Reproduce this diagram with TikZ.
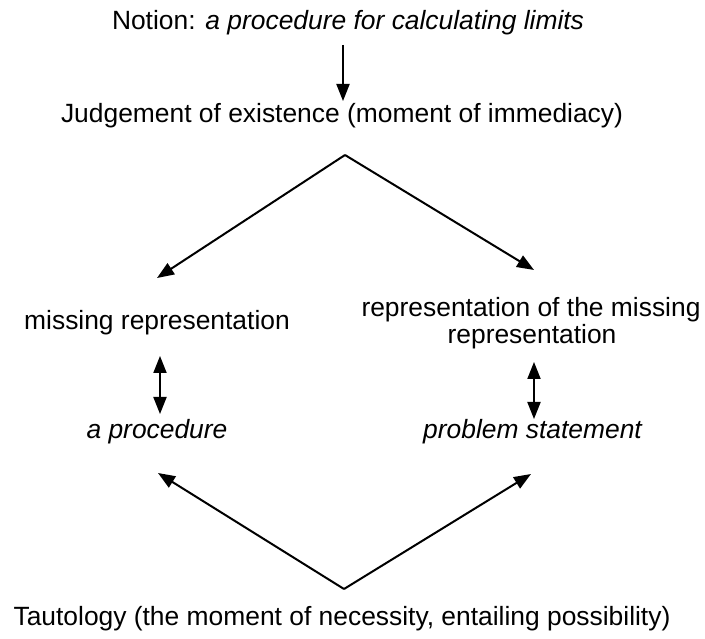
\documentclass[tikz,border=0pt]{standalone}
\usepackage{fontspec}
\setmainfont{Liberation Sans}
\usetikzlibrary{arrows.meta}
\begin{document}
\begin{tikzpicture}[x=1pt,y=-1pt,
  lbl/.style={inner sep=0pt,text height=0.72em,text depth=0pt,font=\fontsize{26.4}{30}\selectfont},
  tip/.style={},
  conn/.style={line width=2pt,-{Triangle[length=17pt,width=13pt]}},
  dconn/.style={line width=2pt,{Triangle[length=17pt,width=13pt]}-{Triangle[length=17pt,width=13pt]}}]
\useasboundingbox (0,0) rectangle (705,639);
\node[lbl] (notion) at (348,26) {Notion: \textit{a procedure for calculating limits}};
\node[lbl] (judg) at (342,119) {Judgement of existence (moment of immediacy)};
\node[lbl] (miss) at (157,326) {missing representation};
\node[lbl] (repr) at (531,313) {representation of the missing};
\node[lbl] (repr2) at (532,340) {representation};
\node[lbl] (proc) at (157,435) {\textit{a procedure}};
\node[lbl] (prob) at (533,435) {\textit{problem statement}};
\node[lbl] (taut) at (342,622) {Tautology (the moment of necessity, entailing possibility)};
\coordinate (top) at (345,155);
\coordinate (tl) at (157,278);
\coordinate (tr) at (534,270);
\coordinate (bot) at (344,589);
\coordinate (bl) at (158,473);
\coordinate (br) at (531,474);
\coordinate (a1s) at (343,45);
\coordinate (a1e) at (343,101);
\coordinate (l1) at (160,356);
\coordinate (l2) at (160,414);
\coordinate (r1) at (534,362);
\coordinate (r2) at (534,419);
\draw[conn] (a1s) -- (a1e);
\draw[conn] (top) -- (tl);
\draw[conn] (top) -- (tr);
\draw[conn] (bot) -- (bl);
\draw[conn] (bot) -- (br);
\draw[dconn] (l1) -- (l2);
\draw[dconn] (r1) -- (r2);
\end{tikzpicture}
\end{document}
